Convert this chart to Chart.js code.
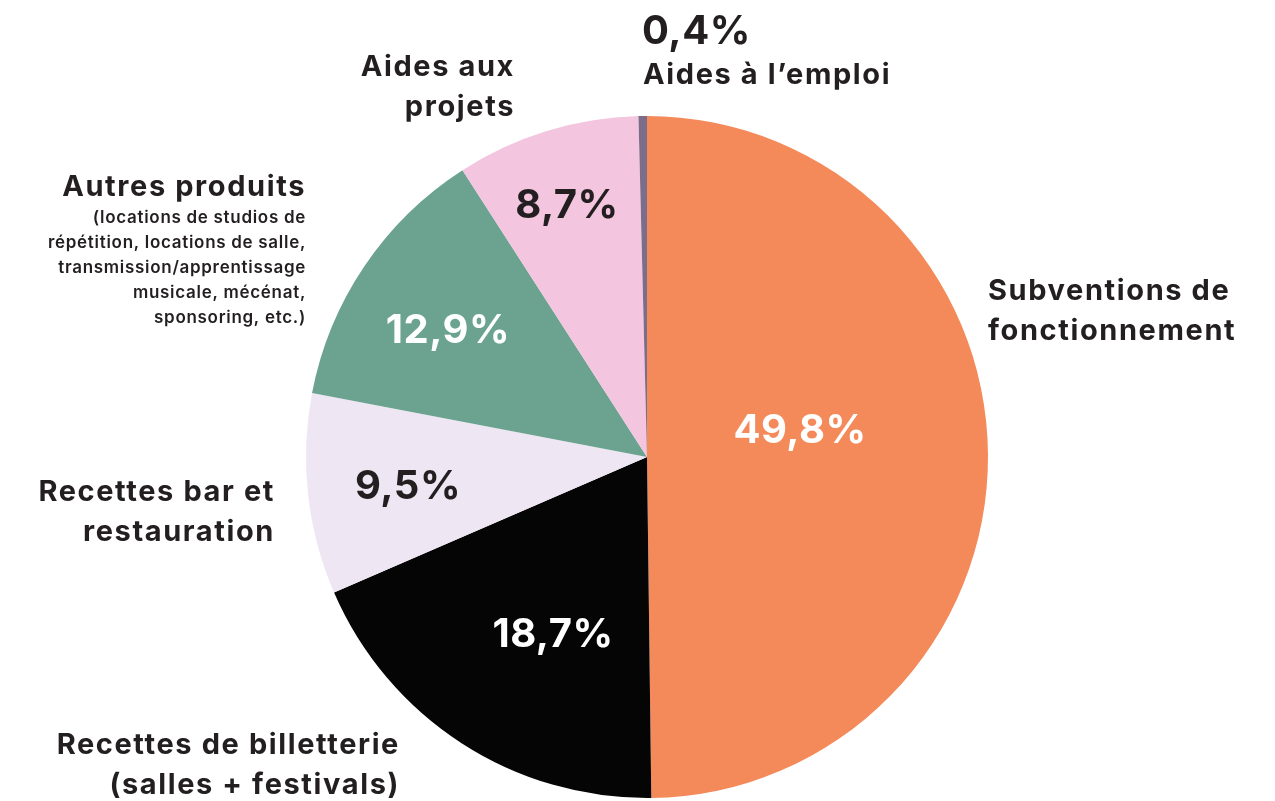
<!DOCTYPE html>
<html>
<head>
<meta charset="utf-8">
<script src="https://cdn.jsdelivr.net/npm/chart.js@4"></script>
<style>
  html, body { margin: 0; padding: 0; background: #fff; overflow: hidden; }
  #wrap { width: 1275px; height: 801px; position: relative; }
</style>
</head>
<body>
<div id="wrap"><canvas id="pieChart" width="1275" height="801"></canvas></div>
<script>
const categories = [
    'Subventions de fonctionnement',
    'Recettes de billetterie (salles + festivals)',
    'Recettes bar et restauration',
    'Autres produits',
    'Aides aux projets',
    'Aides à l’emploi'
];
const shares = [49.8, 18.7, 9.5, 12.9, 8.7, 0.4];
const sliceColors = ['#f4895a', '#050505', '#efe6f3', '#6ba390', '#f3c5de', '#7c6e8a'];

const ink = '#231f20';
const fam = 'Inter, "Noto Sans", sans-serif';

// where each percentage / name goes
const pctSpots = [
    { x: 800, y: 431, color: '#fff', size: 40, align: 'center' },
    { x: 553, y: 635, color: '#fff', size: 40, align: 'center' },
    { x: 408, y: 487, color: ink, size: 40, align: 'center' },
    { x: 448, y: 331, color: '#fff', size: 40, align: 'center' },
    { x: 567, y: 206, color: ink, size: 40, align: 'center' },
    { x: 642, y: 32, color: ink, size: 40, align: 'left' }
];
const nameSpots = [
    { x: 988, y: 291, align: 'left', lines: ['Subventions de', 'fonctionnement'] },
    { x: 400, y: 745, align: 'right', lines: ['Recettes de billetterie', '(salles + festivals)'] },
    { x: 275, y: 492, align: 'right', lines: ['Recettes bar et', 'restauration'] },
    { x: 306, y: 187, align: 'right', lines: ['Autres produits'],
      small: ['(locations de studios de', 'répétition, locations de salle,', 'transmission/apprentissage', 'musicale, mécénat,', 'sponsoring, etc.)'] },
    { x: 515, y: 67, align: 'right', lines: ['Aides aux', 'projets'] },
    { x: 643, y: 75, align: 'left', lines: ['Aides à l’emploi'] }
];

const labelPlugin = {
    id: 'labels',
    afterDatasetsDraw(chart) {
        const ctx = chart.ctx;
        const vals = chart.data.datasets[0].data;
        ctx.save();
        ctx.textBaseline = 'middle';
        vals.forEach((v, i) => {
            const p = pctSpots[i];
            ctx.font = `700 ${p.size}px ${fam}`;
            ctx.letterSpacing = '0.5px';
            ctx.fillStyle = p.color;
            ctx.textAlign = p.align;
            ctx.fillText(v.toFixed(1).replace('.', ',') + '%', p.x, p.y);

            const n = nameSpots[i];
            ctx.fillStyle = ink;
            ctx.textAlign = n.align;
            ctx.font = `700 29px ${fam}`;
            ctx.letterSpacing = '1.6px';
            n.lines.forEach((t, k) => ctx.fillText(t, n.x, n.y + k * 40));
            if (n.small) {
                ctx.font = `600 17px ${fam}`;
                ctx.letterSpacing = '0.7px';
                n.small.forEach((t, k) => ctx.fillText(t, n.x, n.y + 31 + k * 25));
            }
        });
        ctx.restore();
    }
};

const ctx = document.getElementById('pieChart').getContext('2d');
new Chart(ctx, {
    type: 'pie',
    data: {
        labels: categories,
        datasets: [{
            data: shares,
            backgroundColor: sliceColors,
            borderWidth: 0
        }]
    },
    options: {
        responsive: false,
        animation: false,
        layout: { padding: { top: 116, bottom: 3, left: 19, right: 0 } },
        plugins: {
            legend: { display: false },
            tooltip: { enabled: false }
        }
    },
    plugins: [labelPlugin]
});
</script>
</body>
</html>
